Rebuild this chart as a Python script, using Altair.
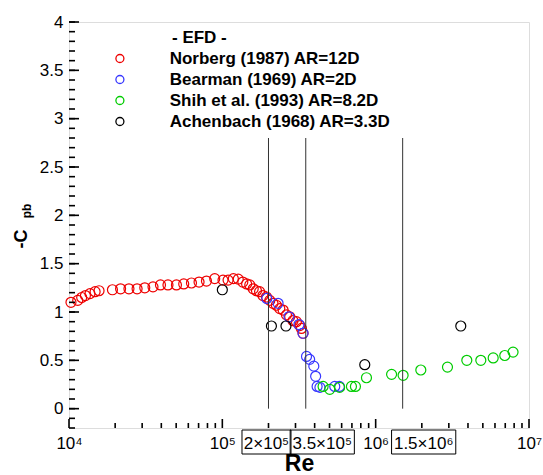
import altair as alt
import pandas as pd

# ---------------- data ----------------
series_names = ["Norberg (1987) AR=12D", "Bearman (1969) AR=2D",
                "Shih et al. (1993) AR=8.2D", "Achenbach (1968) AR=3.3D"]
series_colors = ["#ee0000", "#3838ff", "#00cc00", "#000000"]

norberg_re = [1.03e4, 1.14e4, 1.21e4, 1.28e4, 1.37e4, 1.48e4, 1.57e4,
              1.92e4, 2.17e4, 2.46e4, 2.78e4, 3.12e4, 3.53e4, 3.95e4, 4.42e4,
              5.02e4, 5.60e4, 6.29e4, 7.05e4, 7.88e4, 8.92e4, 1.01e5, 1.09e5,
              1.18e5, 1.27e5, 1.36e5, 1.44e5, 1.51e5, 1.59e5, 1.67e5, 1.75e5,
              1.84e5, 1.94e5, 2.04e5, 2.14e5, 2.25e5, 2.37e5, 2.49e5, 2.62e5,
              2.75e5, 2.89e5, 3.04e5, 3.20e5, 3.28e5, 3.36e5]
norberg_cpb = [1.10, 1.12, 1.15, 1.17, 1.19, 1.21, 1.22,
               1.23, 1.24, 1.24, 1.24, 1.25, 1.26, 1.28, 1.28,
               1.28, 1.29, 1.30, 1.31, 1.32, 1.345, 1.33, 1.33,
               1.345, 1.34, 1.31, 1.29, 1.28, 1.24, 1.22, 1.21,
               1.17, 1.155, 1.12, 1.09, 1.07, 1.035, 1.02, 0.97,
               0.95, 0.91, 0.90, 0.86, 0.83, 0.78]

bearman_re = [1.95e5, 2.31e5, 2.72e5, 3.16e5, 3.36e5, 3.54e5, 3.71e5,
              3.95e5, 4.06e5, 4.15e5, 4.33e5, 5.41e5, 5.80e5]
bearman_cpb = [1.14, 1.09, 0.95, 0.87, 0.78, 0.54, 0.51,
               0.44, 0.335, 0.23, 0.22, 0.23, 0.23]

shih_re = [4.54e5, 5.02e5, 5.82e5, 6.95e5, 7.38e5, 8.71e5, 1.27e6, 1.51e6,
           1.97e6, 2.94e6, 3.93e6, 4.85e6, 5.84e6, 6.95e6, 7.87e6]
shih_cpb = [0.23, 0.20, 0.22, 0.23, 0.23, 0.32, 0.355, 0.345,
            0.40, 0.43, 0.50, 0.50, 0.525, 0.55, 0.585]

achenbach_re = [1.0e5, 2.09e5, 2.60e5, 8.49e5, 3.59e6]
achenbach_cpb = [1.23, 0.855, 0.855, 0.455, 0.855]

vline_re = [2e5, 3.5e5, 1.5e6]
vline_bottom = [0.0, 0.0, 0.0]
vline_top = [2.8, 2.8, 2.8]

x_major = [1e4, 1e5, 1e6, 1e7]
x_minor = [float(k * 10 ** n) for n in (4, 5, 6) for k in range(2, 10)]
y_major = [i * 0.5 for i in range(0, 9)]
y_minor = [round(-0.2 + i * 0.1, 1) for i in range(0, 43)]

box_labels = ["2×10⁵", "3.5×10⁵", "1.5×10⁶"]
box_anchor = [2e5, 3.5e5, 1.5e6]
legend_header = ["- EFD -"]

# ---------------- build tables ----------------
rows = []
for name, xs, ys in zip(series_names,
                        [norberg_re, bearman_re, shih_re, achenbach_re],
                        [norberg_cpb, bearman_cpb, shih_cpb, achenbach_cpb]):
    for a, b in zip(xs, ys):
        rows.append({"Re": a, "Cpb": b, "Series": name})
df = pd.DataFrame(rows)

W, H = 460, 406
FONT = "Liberation Sans"
X0, X1, Y0, Y1 = 1e4, 1e7, -0.2, 4.0
xscale = alt.Scale(type="log", domain=[X0, X1], nice=False)
yscale = alt.Scale(domain=[Y0, Y1], nice=False, zero=False)

vref = pd.DataFrame({"Re": vline_re, "y0": vline_bottom, "y1": vline_top})

label_expr = ("datum.value < 5e4 ? '10⁴' : datum.value < 5e5 ? '10⁵' : "
              "datum.value < 5e6 ? '10⁶' : '10⁷'")

points = alt.Chart(df).mark_point(
    shape="circle", filled=False, size=100, strokeWidth=1.2, opacity=1
).encode(
    x=alt.X("Re:Q", scale=xscale, axis=alt.Axis(
        orient="bottom", values=x_major, labelExpr=label_expr, ticks=False,
        domain=False, grid=False, labelFontSize=17, labelPadding=7,
        labelColor="black", labelFont=FONT, labelFlush=False,
        title="Re", titleFontSize=23, titleFontWeight="bold", titleFont=FONT,
        titleColor="black", titleBaseline="alphabetic", titleY=42.5)),
    y=alt.Y("Cpb:Q", scale=yscale, axis=alt.Axis(
        orient="left", values=y_major, format="~g", ticks=False, domain=False,
        grid=False, labelFontSize=17, labelPadding=6, labelColor="black",
        labelFont=FONT, title=None)),
    color=alt.Color("Series:N", scale=alt.Scale(domain=series_names, range=series_colors),
                    legend=alt.Legend(
                        orient="none", legendX=42.4, legendY=28, padding=0,
                        title=None,
                        labelFontSize=17, labelFontWeight="bold", labelFont=FONT,
                        labelColor="black", labelLimit=400,
                        symbolSize=64, symbolStrokeWidth=1.3, symbolType="circle",
                        labelOffset=41.3, rowPadding=3)),
)

header = alt.Chart(pd.DataFrame({"t": legend_header})).mark_text(
    fontSize=17, fontWeight="bold", font=FONT, color="black", align="left",
    baseline="middle").encode(x=alt.value(103), y=alt.value(15.5), text="t:N")

refs = alt.Chart(vref).mark_rule(strokeWidth=1, color="#333333").encode(
    x=alt.X("Re:Q", scale=xscale, axis=None),
    y=alt.Y("y0:Q", scale=yscale, axis=None),
    y2="y1:Q",
)


# inward ticks drawn as line-shaped symbols (path scaled by sqrt(size)/2)
def xtick_layer(vals, length):
    return alt.Chart(pd.DataFrame({"v": vals})).mark_point(
        shape="M0,0L0,-2", size=length * length, filled=False, color="black",
        strokeWidth=1.6, opacity=1
    ).encode(x=alt.X("v:Q", scale=xscale, axis=None), y=alt.value(H))


def ytick_layer(vals, length):
    return alt.Chart(pd.DataFrame({"v": vals})).mark_point(
        shape="M0,0L2,0", size=length * length, filled=False, color="black",
        strokeWidth=1.6, opacity=1
    ).encode(y=alt.Y("v:Q", scale=yscale, axis=None), x=alt.value(0))


ticks = [xtick_layer(x_major, 9), xtick_layer(x_minor, 5),
         ytick_layer(y_major, 10), ytick_layer(y_minor, 6)]

box_dx = [-2, 16.5, 21]
box_halfw = [2.45, 3.21, 3.21]
annots = []
for lab, anc, dx, hw in zip(box_labels, box_anchor, box_dx, box_halfw):
    d = pd.DataFrame({"Re": [anc], "label": [lab]})
    annots.append(alt.Chart(d).mark_text(
        fontSize=17, font=FONT, color="black", dx=dx, align="center", baseline="middle"
    ).encode(x=alt.X("Re:Q", scale=xscale, axis=None), y=alt.value(H + 15.5), text="label:N"))
    annots.append(alt.Chart(d).mark_point(
        shape=f"M{-hw},-1.2H{hw}V1.2H{-hw}Z", size=400, filled=False, color="black",
        strokeWidth=1, opacity=1, xOffset=dx
    ).encode(x=alt.X("Re:Q", scale=xscale, axis=None), y=alt.value(H + 14.0)))

ytitle_df = pd.DataFrame({"t": ["-C"], "s": ["pb"]})
ytitle_main = alt.Chart(ytitle_df).mark_text(
    fontSize=18, fontWeight="bold", font=FONT, color="black", angle=270,
    align="center", baseline="alphabetic").encode(
    x=alt.value(-42.3), y=alt.value(217), text="t:N")
ytitle_sub = alt.Chart(ytitle_df).mark_text(
    fontSize=12, fontWeight="bold", font=FONT, color="black", angle=270,
    align="center", baseline="alphabetic").encode(
    x=alt.value(-38), y=alt.value(189), text="s:N")

chart = alt.layer(
    points, refs, *ticks, header,
    *annots, ytitle_main, ytitle_sub
).resolve_axis(x="independent", y="independent").properties(
    width=W, height=H,
    autosize=alt.AutoSizeParams(type="none"),
    padding={"left": 69, "top": 22, "right": 14, "bottom": 47},
).configure_view(stroke="black", strokeWidth=1.8).configure(font=FONT)

chart.save("out.html", embed_options={"renderer": "svg", "actions": False})
